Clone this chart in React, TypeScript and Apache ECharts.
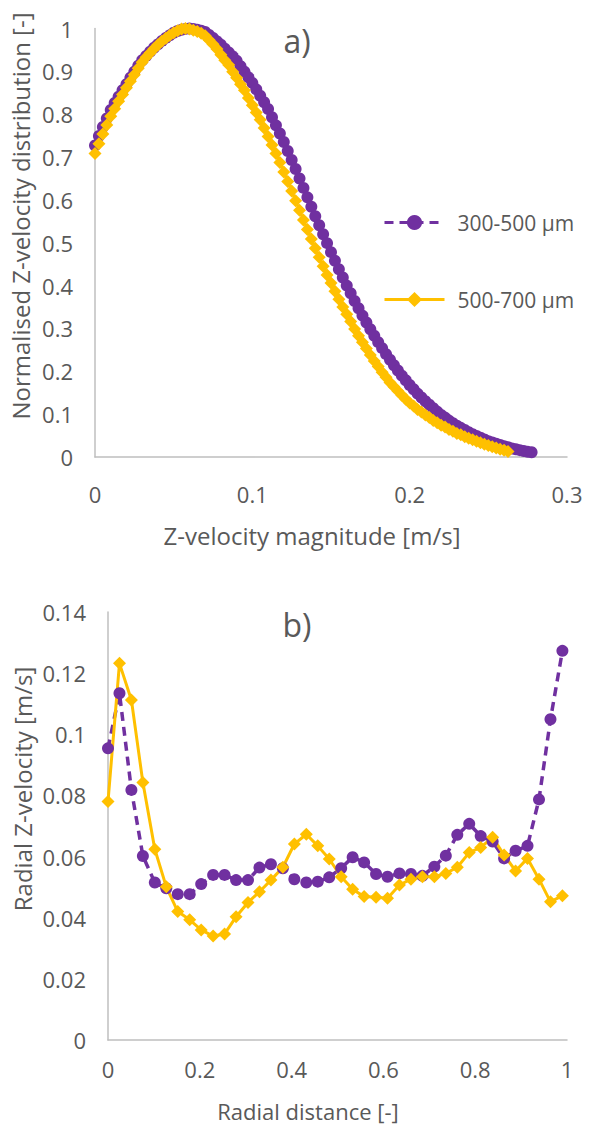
import React, { useEffect, useRef } from "react";
import * as echarts from "echarts";

// ---- Panel a) : normalised Z-velocity distribution (sampled every 0.0025 m/s)
const STEP_A = 0.0025;
const distPurple = [
  0.727, 0.749, 0.770, 0.790, 0.810, 0.826, 0.841, 0.856, 0.870, 0.885,
  0.899, 0.913, 0.926, 0.936, 0.946, 0.955, 0.963, 0.971, 0.978, 0.984,
  0.990, 0.994, 0.997, 0.999, 1.000, 0.999, 0.997, 0.995, 0.992, 0.985,
  0.978, 0.970, 0.962, 0.953, 0.944, 0.935, 0.925, 0.912, 0.899, 0.886,
  0.873, 0.858, 0.843, 0.828, 0.812, 0.793, 0.774, 0.755, 0.735, 0.714,
  0.693, 0.672, 0.650, 0.628, 0.606, 0.584, 0.562, 0.541, 0.520, 0.499,
  0.478, 0.458, 0.438, 0.419, 0.400, 0.382, 0.364, 0.347, 0.330, 0.314,
  0.298, 0.283, 0.268, 0.254, 0.240, 0.227, 0.214, 0.202, 0.190, 0.179,
  0.168, 0.158, 0.148, 0.139, 0.130, 0.122, 0.114, 0.106, 0.098, 0.092,
  0.085, 0.079, 0.073, 0.068, 0.063, 0.058, 0.053, 0.049, 0.045, 0.041,
  0.037, 0.034, 0.031, 0.028, 0.025, 0.023, 0.020, 0.018, 0.016, 0.014,
  0.012, 0.011,
];
const distYellow = [
  0.708, 0.731, 0.754, 0.775, 0.795, 0.813, 0.830, 0.846, 0.862, 0.877,
  0.892, 0.907, 0.921, 0.933, 0.943, 0.953, 0.962, 0.970, 0.977, 0.984,
  0.990, 0.995, 0.999, 1.000, 0.999, 0.996, 0.993, 0.989, 0.983, 0.973,
  0.963, 0.952, 0.939, 0.926, 0.915, 0.899, 0.885, 0.870, 0.856, 0.838,
  0.821, 0.804, 0.787, 0.768, 0.748, 0.728, 0.708, 0.687, 0.665, 0.643,
  0.621, 0.598, 0.576, 0.553, 0.531, 0.509, 0.487, 0.466, 0.445, 0.425,
  0.406, 0.387, 0.368, 0.350, 0.333, 0.316, 0.299, 0.283, 0.268, 0.253,
  0.238, 0.224, 0.211, 0.198, 0.186, 0.174, 0.164, 0.154, 0.144, 0.135,
  0.126, 0.119, 0.111, 0.105, 0.098, 0.092, 0.085, 0.080, 0.074, 0.070,
  0.064, 0.060, 0.055, 0.052, 0.047, 0.044, 0.040, 0.037, 0.033, 0.030,
  0.027, 0.024, 0.021, 0.018, 0.016, 0.013,
];

// ---- Panel b) : radial Z-velocity
const radialX = [
  0, 0.025, 0.051, 0.076, 0.102, 0.127, 0.152, 0.178, 0.203, 0.229,
  0.254, 0.279, 0.305, 0.33, 0.355, 0.381, 0.406, 0.432, 0.457, 0.482,
  0.508, 0.533, 0.558, 0.584, 0.609, 0.635, 0.66, 0.685, 0.711, 0.736,
  0.761, 0.787, 0.812, 0.838, 0.863, 0.888, 0.914, 0.939, 0.964, 0.99,
];
const radialPurple = [
  0.0954, 0.1134, 0.0818, 0.0602, 0.0515, 0.0496, 0.0477, 0.0477, 0.051, 0.054,
  0.054, 0.0523, 0.0523, 0.0564, 0.0575, 0.0562, 0.0526, 0.0515, 0.0518, 0.0532,
  0.0562, 0.0598, 0.0581, 0.0543, 0.0534, 0.0545, 0.0543, 0.0537, 0.0567, 0.0603,
  0.0671, 0.0707, 0.0667, 0.0649, 0.0594, 0.0619, 0.0635, 0.0787, 0.1049, 0.1273,
];
const radialYellow = [
  0.078, 0.1232, 0.1112, 0.0842, 0.0624, 0.0501, 0.042, 0.0393, 0.036, 0.034,
  0.0347, 0.0403, 0.045, 0.0485, 0.0523, 0.0565, 0.0641, 0.0673, 0.0635, 0.0592,
  0.0534, 0.0493, 0.0469, 0.0467, 0.0464, 0.0507, 0.0526, 0.0534, 0.0534, 0.0545,
  0.0565, 0.0613, 0.063, 0.0663, 0.0605, 0.0553, 0.0594, 0.0526, 0.0452, 0.0472,
];

const seriesNames = ["300-500 µm", "500-700 µm"];
const PURPLE = "#7030A0";
const YELLOW = "#FFC000";
const TEXT = "#595959";
const AXIS = "#BFBFBF";
const FONT = "'Open Sans', sans-serif";
const DASH = [9, 6];

const fmt = (v: number) => String(+v.toFixed(3));

export default function App() {
  const ref = useRef<HTMLDivElement>(null);
  useEffect(() => {
    document.body.style.margin = "0";
    if (!ref.current) return;
    const chart = echarts.init(ref.current, undefined, { renderer: "svg" });

    const axisCommon = {
      axisLine: { show: true, lineStyle: { color: AXIS, width: 1.5 } },
      axisTick: { show: false },
      splitLine: { show: false },
    };
    const labelStyle = { color: TEXT, fontFamily: FONT, fontSize: 22 };

    const topP = distPurple.map((v, i) => [+(i * STEP_A).toFixed(4), v]);
    const topY = distYellow.map((v, i) => [+(i * STEP_A).toFixed(4), v]);
    const botP = radialX.map((x, i) => [x, radialPurple[i]]);
    const botY = radialX.map((x, i) => [x, radialYellow[i]]);

    chart.setOption({
      animation: false,
      backgroundColor: "#ffffff",
      grid: [
        { left: 95, top: 28.5, width: 472, height: 428.5 },
        { left: 108, top: 612, width: 459, height: 428 },
      ],
      xAxis: [
        {
          gridIndex: 0, type: "value", min: 0, max: 0.3, interval: 0.1,
          ...axisCommon,
          axisLabel: { ...labelStyle, margin: 26, formatter: fmt },
        },
        {
          gridIndex: 1, type: "value", min: 0, max: 1, interval: 0.2,
          ...axisCommon,
          axisLabel: { ...labelStyle, margin: 18, formatter: fmt },
        },
      ],
      yAxis: [
        {
          gridIndex: 0, type: "value", min: 0, max: 1, interval: 0.1,
          ...axisCommon,
          axisLabel: { ...labelStyle, margin: 22, formatter: fmt },
        },
        {
          gridIndex: 1, type: "value", min: 0, max: 0.14, interval: 0.02,
          ...axisCommon,
          axisLabel: { ...labelStyle, margin: 22, formatter: fmt },
        },
      ],
      legend: {
        data: [
          { name: seriesNames[0], lineStyle: { width: 3, type: [9, 6] } },
          { name: seriesNames[1], lineStyle: { width: 3 } },
        ],
        orient: "vertical",
        left: 383,
        top: 212,
        padding: 0,
        itemWidth: 60,
        itemHeight: 19,
        itemGap: 56,
        textStyle: { color: TEXT, fontFamily: FONT, fontSize: 21, lineHeight: 19, padding: [0, 0, 0, 8] },
        selectedMode: false,
      },
      series: [
        {
          name: seriesNames[0], type: "line", xAxisIndex: 0, yAxisIndex: 0,
          data: topP, symbol: "circle", symbolSize: 12,
          itemStyle: { color: PURPLE },
          lineStyle: { color: PURPLE, width: 3, type: DASH },
        },
        {
          name: seriesNames[1], type: "line", xAxisIndex: 0, yAxisIndex: 0,
          data: topY, symbol: "diamond", symbolSize: 13,
          itemStyle: { color: YELLOW },
          lineStyle: { color: YELLOW, width: 3 },
        },
        {
          name: seriesNames[0], type: "line", xAxisIndex: 1, yAxisIndex: 1,
          data: botP, symbol: "circle", symbolSize: 12,
          itemStyle: { color: PURPLE },
          lineStyle: { color: PURPLE, width: 3.5, type: DASH },
        },
        {
          name: seriesNames[1], type: "line", xAxisIndex: 1, yAxisIndex: 1,
          data: botY, symbol: "diamond", symbolSize: 13,
          itemStyle: { color: YELLOW },
          lineStyle: { color: YELLOW, width: 3 },
        },
      ],
      graphic: [
        {
          type: "text", x: 297, y: 40,
          style: { text: "a)", fill: TEXT, font: `32px ${FONT}`, textAlign: "center", textVerticalAlign: "middle" },
        },
        {
          type: "text", x: 297, y: 624,
          style: { text: "b)", fill: TEXT, font: `32px ${FONT}`, textAlign: "center", textVerticalAlign: "middle" },
        },
        {
          type: "text", x: 312, y: 535,
          style: { text: "Z-velocity magnitude [m/s]", fill: TEXT, font: `24px ${FONT}`, textAlign: "center", textVerticalAlign: "middle" },
        },
        {
          type: "text", x: 308, y: 1111,
          style: { text: "Radial distance [-]", fill: TEXT, font: `22px ${FONT}`, textAlign: "center", textVerticalAlign: "middle" },
        },
        {
          type: "text", x: 20, y: 216, rotation: Math.PI / 2,
          style: { text: "Normalised Z-velocity distribution [-]", fill: TEXT, font: `24px ${FONT}`, textAlign: "center", textVerticalAlign: "middle" },
        },
        {
          type: "text", x: 22, y: 789, rotation: Math.PI / 2,
          style: { text: "Radial Z-velocity [m/s]", fill: TEXT, font: `24px ${FONT}`, textAlign: "center", textVerticalAlign: "middle" },
        },
      ],
    });
    return () => chart.dispose();
  }, []);
  return <div ref={ref} style={{ width: 592, height: 1129 }} />;
}
